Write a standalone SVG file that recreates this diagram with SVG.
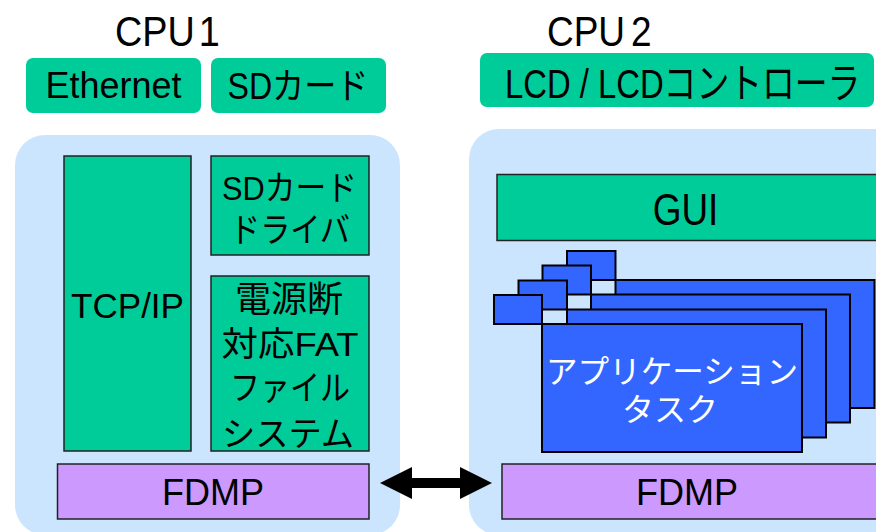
<svg xmlns="http://www.w3.org/2000/svg" width="876" height="532" viewBox="0 0 876 532">
<style>
text{font-family:"Liberation Sans","Noto Sans CJK JP",sans-serif;fill:#000}
.panel{fill:#CCE5FF}
.green{fill:#00CC99;stroke:#222;stroke-width:1.5}
.tag{fill:#00CC99}
.purple{fill:#CC99FF;stroke:#222;stroke-width:1.5}
.blue{fill:#3366FF;stroke:#000;stroke-width:2}
.w{fill:#fff}
</style>
<rect width="876" height="532" fill="#fff"/>
<g id="cpu1">
<rect class="panel" x="15" y="135" width="385" height="400" rx="30"/>
<text transform="translate(115,46) scale(0.9,1)" font-size="42">CPU<tspan x="93">1</tspan></text>
</g>
<g id="cpu2">
<rect class="panel" x="469" y="129" width="440" height="406" rx="30"/>
<text transform="translate(547,46) scale(0.88,1)" font-size="42">CPU<tspan x="95.5">2</tspan></text>
</g>
<g id="ethernet">
<rect class="tag" x="26" y="58" width="175" height="55" rx="7"/>
<text x="113.5" y="98" font-size="36" text-anchor="middle">Ethernet</text>
</g>
<g id="sdcard">
<rect class="tag" x="211" y="58" width="175" height="55" rx="7"/>
<text x="298" y="99" font-size="36" text-anchor="middle" textLength="141" lengthAdjust="spacingAndGlyphs">SDカード</text>
</g>
<g id="lcd">
<rect class="tag" x="480" y="53" width="394" height="54" rx="7"/>
<text transform="translate(505,98) scale(0.965,1.2)" font-size="34">LCD / LCDコントローラ</text>
</g>
<g id="tcpip">
<rect class="green" x="64" y="156" width="127" height="295"/>
<text x="127.5" y="318" font-size="35" text-anchor="middle" textLength="113" lengthAdjust="spacingAndGlyphs">TCP/IP</text>
</g>
<g id="sddriver">
<rect class="green" x="211" y="156" width="158" height="99"/>
<text x="289.5" y="200" font-size="34" text-anchor="middle" textLength="135" lengthAdjust="spacingAndGlyphs">SDカード</text>
<text x="290" y="242" font-size="34" text-anchor="middle" textLength="120" lengthAdjust="spacingAndGlyphs">ドライバ</text>
</g>
<g id="fatfs">
<rect class="green" x="211" y="276" width="158" height="175"/>
<text x="289" y="312" font-size="36" text-anchor="middle" textLength="108" lengthAdjust="spacingAndGlyphs">電源断</text>
<text x="290" y="356" font-size="34" text-anchor="middle" textLength="137" lengthAdjust="spacingAndGlyphs">対応FAT</text>
<text x="290" y="400" font-size="34" text-anchor="middle" textLength="120" lengthAdjust="spacingAndGlyphs">ファイル</text>
<text x="288" y="446" font-size="34" text-anchor="middle" textLength="132" lengthAdjust="spacingAndGlyphs">システム</text>
</g>
<g id="fdmp1">
<rect class="purple" x="57.5" y="464" width="311.5" height="55"/>
<text x="213" y="505" font-size="36" text-anchor="middle">FDMP</text>
</g>
<g id="gui">
<rect class="green" x="497" y="174.5" width="380" height="66"/>
<text transform="translate(685.5,225) scale(0.84,1)" font-size="44" text-anchor="middle">GUI</text>
</g>
<g id="tasks">
<rect class="blue" x="567" y="251" width="48.5" height="29"/>
<rect class="blue" x="615.5" y="280" width="259" height="128"/>
<rect class="blue" x="542.5" y="265.5" width="48.5" height="29"/>
<rect class="blue" x="591" y="294.5" width="259" height="128"/>
<rect class="blue" x="518.5" y="280.5" width="48.5" height="29"/>
<rect class="blue" x="567" y="309.5" width="259" height="128"/>
<rect class="blue" x="494" y="295" width="48" height="29"/>
<rect class="blue" x="542" y="324" width="260" height="128"/>
<text class="w" x="672" y="383" font-size="32" text-anchor="middle" textLength="252" lengthAdjust="spacingAndGlyphs">アプリケーション</text>
<text class="w" x="670" y="421" font-size="32" text-anchor="middle">タスク</text>
</g>
<g id="fdmp2">
<rect class="purple" x="502" y="464" width="380" height="55"/>
<text x="687" y="505" font-size="36" text-anchor="middle">FDMP</text>
</g>
<g id="connectors">
<polygon points="380,483 412,467 412,478 460,478 460,467 492,483 460,499 460,488 412,488 412,499" fill="#000"/>
</g>
</svg>
